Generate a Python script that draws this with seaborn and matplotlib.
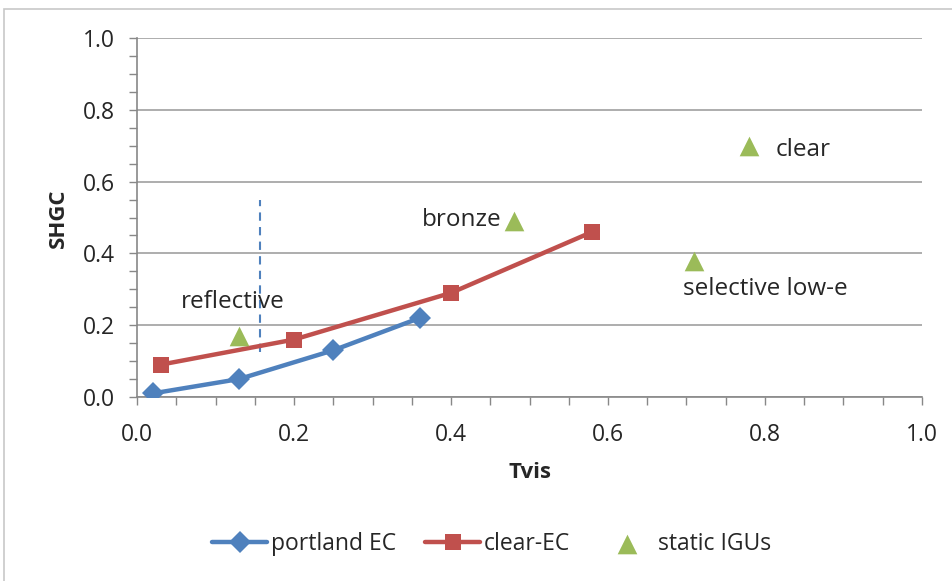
import matplotlib
matplotlib.use("Agg")
import matplotlib.pyplot as plt
import seaborn as sns
import numpy as np
from matplotlib.ticker import MultipleLocator
from matplotlib.patches import Rectangle

# Data
portland_x = [0.02, 0.13, 0.25, 0.36]
portland_y = [0.01, 0.05, 0.13, 0.22]
clear_ec_x = [0.03, 0.20, 0.40, 0.58]
clear_ec_y = [0.09, 0.16, 0.29, 0.46]
igu_names = ["reflective", "bronze", "selective low-e", "clear"]
igu_x = [0.13, 0.48, 0.71, 0.78]
igu_y = [0.17, 0.49, 0.38, 0.70]
tick_vals = [0.0, 0.2, 0.4, 0.6, 0.8, 1.0]

sns.set_theme(style="white")
plt.rcParams['font.family'] = ['Open Sans', 'DejaVu Sans']

fig = plt.figure(figsize=(9.52, 5.81), dpi=100)
ax = fig.add_axes([137/952, 1-397/581, (922-137)/952, (397-38)/581])

blue = "#4F81BD"
red = "#C0504D"
green = "#9BBB59"

sns.lineplot(x=portland_x, y=portland_y, ax=ax, color=blue, lw=3.2, marker="D",
             markersize=11, markeredgewidth=0, sort=False, label="portland EC", zorder=4)
sns.lineplot(x=clear_ec_x, y=clear_ec_y, ax=ax, color=red, lw=3.2, marker="s",
             markersize=12, markeredgewidth=0, sort=False, label="clear-EC", zorder=3)
sns.scatterplot(x=igu_x, y=igu_y, ax=ax, color=green, marker="^", s=200,
                linewidth=0, label="static IGUs", zorder=5)

# dashed vertical line
ax.plot([0.157, 0.157], [0.125, 0.55], ls=(0, (4, 3)), color=blue, lw=1.5, zorder=2)

# annotations
fs = 17.5
ax.text(0.056, 0.265, igu_names[0], fontsize=fs, va="center", ha="left")
ax.text(0.464, 0.493, igu_names[1], fontsize=fs, va="center", ha="right")
ax.text(0.696, 0.30, igu_names[2], fontsize=fs, va="center", ha="left")
ax.text(0.814, 0.688, igu_names[3], fontsize=fs, va="center", ha="left")

ax.set_xlim(0, 1)
ax.set_ylim(0, 1)
ax.set_xticks(tick_vals)
ax.set_yticks(tick_vals)
ax.set_xticklabels([f"{v:.1f}" for v in tick_vals], fontsize=16.5)
ax.set_yticklabels([f"{v:.1f}" for v in tick_vals], fontsize=16.5)
ax.xaxis.set_minor_locator(MultipleLocator(0.05))
ax.yaxis.set_minor_locator(MultipleLocator(0.05))
ax.tick_params(axis="both", which="both", direction="out", length=6, width=1,
               color="#888888", bottom=True, left=True)
ax.tick_params(axis="x", which="major", pad=13)
ax.tick_params(axis="y", which="major", pad=10)

ax.grid(True, axis="y", which="major", color="#A0A0A0", lw=1.2)
ax.grid(False, axis="x")
for side in ["top", "right"]:
    ax.spines[side].set_visible(False)
for side in ["left", "bottom"]:
    ax.spines[side].set_color("#888888")
    ax.spines[side].set_linewidth(1.2)

ax.set_xlabel("Tvis", fontsize=16, fontweight="bold")
ax.set_ylabel("SHGC", fontsize=16, fontweight="bold")
ax.xaxis.set_label_coords(0.5006, -0.209)
ax.yaxis.set_label_coords(-0.1006, 0.499)
ax.xaxis.label.set_va("center")
ax.yaxis.label.set_va("center")

leg = ax.legend(loc="center", bbox_to_anchor=(0.452, -0.41), ncol=3, frameon=False,
                fontsize=16.5, handlelength=2.4, columnspacing=1.3, handletextpad=0.15)

fig.patches.append(Rectangle((4/952, -0.01), 1.0, 1 - 9/581 + 0.01, transform=fig.transFigure,
                             fill=False, edgecolor="#C8C8C8", lw=1.2))

fig.savefig("out.png", dpi=100)
